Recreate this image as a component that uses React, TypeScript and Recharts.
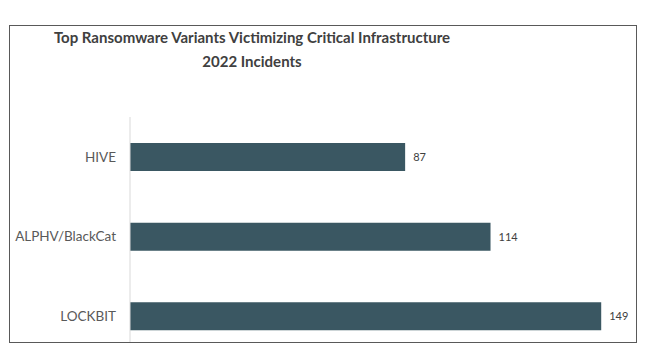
import { BarChart, Bar, XAxis, YAxis, LabelList } from 'recharts';

const variants = ['HIVE', 'ALPHV/BlackCat', 'LOCKBIT'];
const incidents = [87, 114, 149];
const titleLines = ['Top Ransomware Variants Victimizing Critical Infrastructure', '2022 Incidents'];

const data = variants.map((name, i) => ({ name, value: incidents[i] }));

const FONT = 'Lato, "Open Sans", sans-serif';

export default function App() {
  return (
    <div style={{ position: 'absolute', left: 0, top: 0, width: 650, height: 355, background: '#fff', fontFamily: FONT }}>
      <div
        style={{
          position: 'absolute',
          left: 9,
          top: 25,
          width: 626,
          height: 316,
          border: '1px solid #595959',
        }}
      />
      <div
        style={{
          position: 'absolute',
          left: 52,
          top: 25,
          width: 400,
          textAlign: 'center',
          fontWeight: 700,
          fontSize: 15,
          lineHeight: '24px',
          color: '#404040',
        }}
      >
        {titleLines.map(t => (
          <div key={t}>{t}</div>
        ))}
      </div>
      <div style={{ position: 'absolute', left: 0, top: 0, width: 650, height: 342, overflow: 'hidden' }}>
        <BarChart
          width={650}
          height={360}
          data={data}
          layout="vertical"
          margin={{ top: 117, right: 14, bottom: 4, left: 0 }}
        >
          <XAxis type="number" domain={[0, 160]} hide />
          <YAxis
            type="category"
            dataKey="name"
            width={130}
            tickSize={0}
            tickMargin={14}
            tickLine={false}
            axisLine={{ stroke: '#d9d9d9' }}
            tick={{ fill: '#595959', fontSize: 13.5, fontFamily: FONT }}
          />
          <Bar dataKey="value" fill="#3a5762" barSize={28} isAnimationActive={false}>
            <LabelList dataKey="value" position="right" offset={8} fill="#404040" fontSize={11} fontFamily={FONT} />
          </Bar>
        </BarChart>
      </div>
    </div>
  );
}
